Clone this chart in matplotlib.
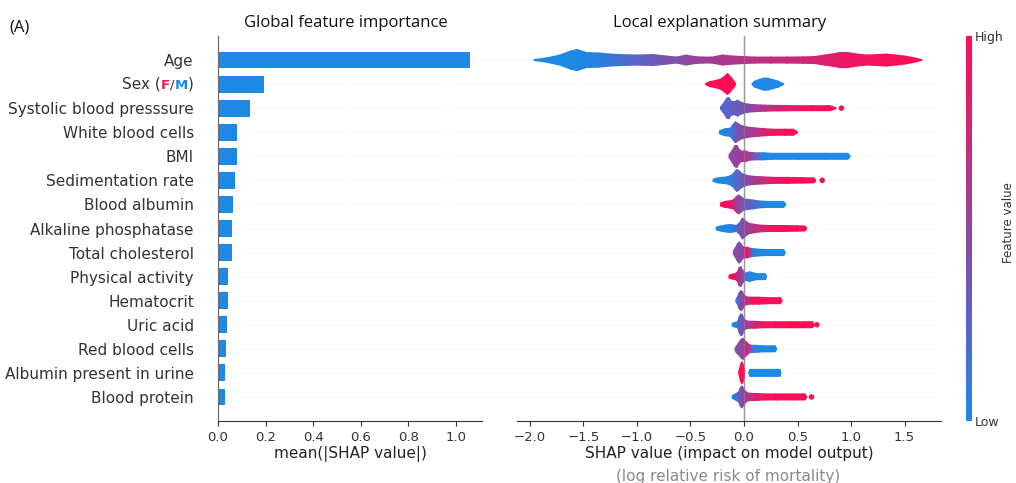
import numpy as np
import matplotlib
matplotlib.use("Agg")
import matplotlib.pyplot as plt
import matplotlib.tri as mtri
from matplotlib.colors import LinearSegmentedColormap
from matplotlib.offsetbox import TextArea, HPacker, AnnotationBbox
import matplotlib.colorbar as mcolorbar

# ---------------------------------------------------------------- data
features = [
    "Age", "Sex (F/M)", "Systolic blood presssure", "White blood cells", "BMI",
    "Sedimentation rate", "Blood albumin", "Alkaline phosphatase",
    "Total cholesterol", "Physical activity", "Hematocrit", "Uric acid",
    "Red blood cells", "Albumin present in urine", "Blood protein",
]

mean_abs_shap = [1.059, 0.193, 0.134, 0.080, 0.080, 0.071, 0.063, 0.059,
                 0.059, 0.042, 0.042, 0.038, 0.034, 0.029, 0.029]

bar_ticks = [0.0, 0.2, 0.4, 0.6, 0.8, 1.0]
shap_ticks = [-2.0, -1.5, -1.0, -0.5, 0.0, 0.5, 1.0, 1.5]

# Summary of each feature's SHAP distribution: knots along the SHAP axis,
# the local density of samples there, and the mean feature value (0 = low,
# 1 = high).  None separates disjoint groups.
swarm_x = [
    [-1.96, -1.85, -1.72, -1.62, -1.56, -1.47, -1.35, -1.25, -1.16, -1.00, -0.85,
     -0.72, -0.63, -0.54, -0.46, -0.38, -0.30, -0.20, -0.10, 0.0, 0.10, 0.25, 0.40,
     0.55, 0.66, 0.75, 0.82, 0.90, 0.97, 1.05, 1.15, 1.25, 1.33, 1.42, 1.50, 1.58, 1.66],
    [-0.36, -0.32, -0.27, -0.22, -0.18, -0.155, -0.13, -0.10, -0.08, None,
     0.075, 0.10, 0.14, 0.18, 0.22, 0.27, 0.32, 0.37],
    [-0.22, -0.19, -0.16, -0.14, -0.12, -0.09, -0.06, -0.03, 0.0, 0.04, 0.10, 0.20,
     0.35, 0.50, 0.65, 0.80, 0.86],
    [-0.23, -0.18, -0.13, -0.10, -0.08, -0.06, -0.03, 0.0, 0.04, 0.09, 0.14, 0.20,
     0.28, 0.38, 0.46, 0.50],
    [-0.14, -0.11, -0.085, -0.065, -0.045, -0.02, 0.01, 0.05, 0.10, 0.15, 0.19, 0.25,
     0.50, 0.75, 0.97, 0.99],
    [-0.29, -0.25, -0.20, -0.16, -0.12, -0.09, -0.07, -0.05, -0.02, 0.01, 0.05, 0.10,
     0.18, 0.28, 0.40, 0.55, 0.65, 0.67],
    [-0.22, -0.18, -0.14, -0.10, -0.07, -0.05, -0.03, 0.0, 0.04, 0.08, 0.14, 0.22,
     0.30, 0.37, 0.39],
    [-0.26, -0.22, -0.17, -0.13, -0.10, -0.07, -0.04, -0.015, 0.01, 0.04, 0.08, 0.14,
     0.22, 0.35, 0.50, 0.57, 0.585],
    [-0.10, -0.08, -0.06, -0.045, -0.03, -0.01, 0.01, 0.03, 0.05, 0.08, 0.12, 0.20,
     0.30, 0.37, 0.385],
    [-0.14, -0.11, -0.08, -0.06, -0.045, -0.03, -0.01, 0.01, 0.03, 0.05, 0.08, 0.12,
     0.17, 0.20, 0.21],
    [-0.075, -0.06, -0.045, -0.03, -0.015, 0.0, 0.02, 0.05, 0.08, 0.14, 0.22, 0.30,
     0.34, 0.355],
    [-0.11, -0.08, -0.06, -0.045, -0.03, -0.015, 0.0, 0.02, 0.05, 0.10, 0.18, 0.30,
     0.45, 0.60, 0.64, 0.655],
    [-0.07, -0.05, -0.03, -0.01, 0.01, 0.03, 0.05, 0.08, 0.12, 0.18, 0.25, 0.29, 0.305],
    [-0.05, -0.04, -0.03, -0.02, -0.01, 0.0, 0.005, None,
     0.045, 0.055, 0.10, 0.20, 0.30, 0.335, 0.345],
    [-0.11, -0.08, -0.05, -0.035, -0.02, -0.005, 0.01, 0.035, 0.07, 0.12, 0.20, 0.30,
     0.45, 0.55, 0.57, 0.585],
]

swarm_density = [
    [0.5, 2, 5, 9, 10.5, 7.5, 7, 6, 5.5, 5, 5.5, 4, 3, 5, 3.5, 3, 3, 5, 4, 3.5, 3, 3, 3,
     3.2, 3.5, 5, 6, 7.5, 7.5, 6, 5, 5.5, 6, 5, 4, 2.5, 0.5],
    [0.5, 2.5, 3.5, 5, 8, 10.5, 8, 4, 1, None, 0.5, 3, 4.5, 6, 6, 4.5, 3, 0.5],
    [1, 5, 10, 10.5, 7, 6.5, 8, 6, 5, 4, 3.5, 3, 2.7, 2.5, 2.5, 2.5, 0.5],
    [1.5, 3.5, 4, 8, 10.5, 9, 7, 6, 5, 4.5, 4, 3.5, 3, 3, 3, 0.5],
    [1.5, 6, 10.5, 11, 7, 5, 5.5, 4, 3.5, 3.5, 3.5, 3, 3, 3, 3, 0.5],
    [1, 2.5, 3, 3.5, 5, 8, 11, 10, 7, 5.5, 4.5, 4, 3.5, 3, 3, 2.7, 2.5, 0.5],
    [1.5, 3, 3.5, 4.5, 8, 9.5, 8, 5.5, 5, 4.5, 3.5, 3, 3, 3, 0.5],
    [1.5, 2.5, 3.5, 4, 3.5, 3, 6, 10.5, 8, 5.5, 4.5, 3.5, 3, 3, 2.7, 2.5, 0.5],
    [1.5, 5, 9, 10.5, 9, 6, 5, 5.5, 4.5, 4, 3.5, 3, 3, 3, 0.5],
    [1.5, 2.5, 3, 5, 9, 10, 6, 3.5, 4, 5, 4, 3, 3, 3, 0.5],
    [1.5, 4, 8, 10, 9, 6, 4, 3.5, 3.5, 3.5, 3, 3, 3, 0.5],
    [1.5, 2.5, 3, 8, 11, 10, 6, 4, 3.5, 3.5, 3, 3, 3, 3, 3, 0.5],
    [2, 6, 9, 10.5, 8, 6, 4, 3.5, 3.5, 3, 3, 3, 0.5],
    [0.5, 5, 9, 11, 9, 5, 0.5, None, 0.5, 3.5, 3.5, 3.5, 3.5, 3.5, 0.5],
    [1.5, 3, 5, 9, 11, 9, 6, 4, 3.5, 3.5, 3, 3, 3, 3, 3, 0.5],
]

swarm_value = [
    [0, 0, 0, 0, 0, 0.02, 0.05, 0.1, 0.15, 0.25, 0.32, 0.4, 0.44, 0.48, 0.52, 0.55,
     0.58, 0.6, 0.63, 0.65, 0.68, 0.7, 0.72, 0.75, 0.78, 0.82, 0.85, 0.88, 0.9, 0.92,
     0.94, 0.96, 0.97, 0.98, 1, 1, 1],
    [1, 1, 1, 1, 1, 1, 1, 1, 1, None, 0, 0, 0, 0, 0, 0, 0, 0],
    [0.2, 0.22, 0.25, 0.25, 0.28, 0.3, 0.3, 0.35, 0.4, 0.45, 0.55, 0.65, 0.8, 0.9,
     0.96, 1.0, 1.0],
    [0.0, 0.02, 0.1, 0.2, 0.3, 0.38, 0.45, 0.5, 0.55, 0.62, 0.7, 0.8, 0.9, 0.97, 1, 1],
    [0.5, 0.5, 0.5, 0.5, 0.55, 0.6, 0.65, 0.55, 0.4, 0.15, 0.0, 0, 0, 0, 0, 0],
    [0, 0, 0, 0.02, 0.08, 0.15, 0.22, 0.28, 0.35, 0.42, 0.5, 0.6, 0.72, 0.85, 0.95, 1,
     1, 1],
    [1, 1, 0.9, 0.75, 0.6, 0.5, 0.45, 0.38, 0.3, 0.22, 0.1, 0.02, 0, 0, 0],
    [0, 0, 0, 0.02, 0.1, 0.2, 0.35, 0.45, 0.5, 0.55, 0.62, 0.72, 0.85, 0.95, 1, 1, 1],
    [0.45, 0.45, 0.45, 0.45, 0.48, 0.55, 0.75, 0.9, 0.7, 0.15, 0.02, 0, 0, 0, 0],
    [1, 1, 0.9, 0.7, 0.6, 0.55, 0.45, 0.3, 0.1, 0, 0, 0, 0, 0, 0],
    [0.05, 0.2, 0.35, 0.45, 0.5, 0.55, 0.65, 0.8, 0.9, 0.97, 1, 1, 1, 1],
    [0, 0, 0.1, 0.25, 0.3, 0.35, 0.42, 0.55, 0.65, 0.78, 0.9, 0.97, 1, 1, 1, 1],
    [0.45, 0.45, 0.5, 0.5, 0.6, 0.85, 0.6, 0.15, 0.02, 0, 0, 0, 0],
    [1, 1, 1, 1, 1, 1, 1, None, 0, 0, 0, 0, 0, 0, 0],
    [0, 0.1, 0.3, 0.4, 0.45, 0.5, 0.55, 0.65, 0.75, 0.85, 0.95, 1, 1, 1, 1, 1],
]

# samples with missing feature values (Red blood cells)
missing_row = 12
missing_x = [-0.095, -0.08, -0.06, -0.04, -0.02]
missing_density = [1, 4, 6, 5, 2]

# isolated extreme samples
outlier_row = [2, 5, 11, 14]
outlier_x = [0.91, 0.73, 0.68, 0.63]
outlier_value = [1.0, 1.0, 1.0, 1.0]

# ---------------------------------------------------------------- style
BLUE = "#1E88E5"
RED = "#FF0D57"
TXT = "#333333"

cmap = LinearSegmentedColormap.from_list(
    "red_blue",
    [(0.0, BLUE), (0.25, "#5A64C8"), (0.5, "#9046A0"), (0.75, "#CD2878"), (1.0, RED)],
)

fig = plt.figure(figsize=(10.16, 4.83), dpi=100)
W, H = 1016.0, 483.0
ax_bottom, ax_height = 62 / H, 385 / H
ax_bar = fig.add_axes([218 / W, ax_bottom, 264 / W, ax_height])
ax_sw = fig.add_axes([517 / W, ax_bottom, 424 / W, ax_height])
ax_cb = fig.add_axes([966 / W, ax_bottom, 6 / W, ax_height])

rows = np.arange(len(features))

# ---------------------------------------------------------------- bar panel
ax_bar.barh(rows, mean_abs_shap, height=0.7, color=BLUE, zorder=2)
for r in rows:
    ax_bar.plot([0, 1.185], [r, r], color="#cccccc", lw=0.5, dashes=(1, 5),
                zorder=0, clip_on=False)
ax_bar.set_ylim(15, -1)
ax_bar.set_xlim(0, 1.11)
ax_bar.set_xticks(bar_ticks)
ax_bar.set_xticklabels([f"{t:.1f}" for t in bar_ticks])
ax_bar.set_yticks(rows)
ax_bar.set_yticklabels([f if not f.startswith("Sex") else "" for f in features])
ax_bar.tick_params(axis="y", length=0, pad=17.3, labelsize=11, labelcolor=TXT)
ax_bar.tick_params(axis="x", labelsize=9.5, labelcolor=TXT, color=TXT)
for s in ("top", "right"):
    ax_bar.spines[s].set_visible(False)
ax_bar.spines["left"].set_color("#666666")
ax_bar.spines["bottom"].set_color(TXT)

# coloured "Sex (F/M)" label
parts = [("Sex (", TXT, 11, "normal"), ("F", RED, 9.5, "bold"),
         ("/", TXT, 9.5, "normal"), ("M", BLUE, 9.5, "bold"), (")", TXT, 11, "normal")]
packer = HPacker(children=[TextArea(t, textprops=dict(color=c, fontsize=fs,
                                                      fontweight=fw))
                           for t, c, fs, fw in parts], sep=0, pad=0, align="baseline")
ab = AnnotationBbox(packer, (0, 1), xycoords=("axes fraction", "data"),
                    xybox=(-17.3, 0), boxcoords="offset points",
                    box_alignment=(1, 0.5), frameon=False, pad=0,
                    annotation_clip=False)
ax_bar.add_artist(ab)

# ---------------------------------------------------------------- swarm panel
HALF = 0.46  # half-height of the densest part of a row


def split_groups(xs, ds, vs):
    groups, cur = [], ([], [], [])
    for x, d, v in zip(xs, ds, vs):
        if x is None:
            groups.append(cur)
            cur = ([], [], [])
            continue
        cur[0].append(x)
        cur[1].append(d)
        cur[2].append(v)
    groups.append(cur)
    return groups


max_d = 11.0
for r in rows:
    ax_sw.plot([-2.28, 1.80], [r, r], color="#cccccc", lw=0.5, dashes=(1, 5),
               zorder=0, clip_on=False)

# missing-value samples drawn in grey beneath the coloured shape
mh = HALF * np.asarray(missing_density) / max_d
ax_sw.fill_between(missing_x, missing_row - mh, missing_row + mh,
                   color="#777777", lw=0, zorder=2)

for r in rows:
    for xs, ds, vs in split_groups(swarm_x[r], swarm_density[r], swarm_value[r]):
        xs = np.asarray(xs, float)
        hw = HALF * np.asarray(ds, float) / max_d
        vs = np.asarray(vs, float)
        n = len(xs)
        vx = np.concatenate([xs, xs])
        vy = np.concatenate([r - hw, r + hw])
        tris = []
        for k in range(n - 1):
            tris.append([k, k + n, k + 1])
            tris.append([k + n, k + 1 + n, k + 1])
        tri = mtri.Triangulation(vx, vy, tris)
        ax_sw.tripcolor(tri, np.concatenate([vs, vs]), cmap=cmap, vmin=0, vmax=1,
                        shading="gouraud", zorder=3)

ax_sw.scatter(outlier_x, outlier_row, c=outlier_value, cmap=cmap, vmin=0, vmax=1,
              s=16, linewidths=0, zorder=4)
# zero reference line, faintly visible over the distributions
ax_sw.axvline(0, color="#999999", lw=1, zorder=1)
ax_sw.axvline(0, color="#999999", lw=1, alpha=0.35, zorder=5)

ax_sw.set_ylim(15, -1)
ax_sw.set_xlim(-2.12, 1.84)
ax_sw.set_xticks(shap_ticks)
ax_sw.set_xticklabels([f"{t:.1f}".replace("-", "\u2212") for t in shap_ticks])
ax_sw.set_yticks([])
ax_sw.tick_params(axis="x", labelsize=9.5, labelcolor=TXT, color=TXT)
for s in ("top", "right", "left"):
    ax_sw.spines[s].set_visible(False)
ax_sw.spines["bottom"].set_color(TXT)

# ---------------------------------------------------------------- colour bar
cb = mcolorbar.ColorbarBase(ax_cb, cmap=cmap, orientation="vertical")
cb.outline.set_visible(False)
cb.set_ticks([0, 1])
cb.set_ticklabels(["Low", "High"])
ax_cb.tick_params(length=0, labelsize=9, labelcolor=TXT, pad=2)
fig.text(1008 / W, 1 - 223 / H, "Feature value", rotation=90, ha="center",
         va="center", fontsize=8.5, color=TXT)

# ---------------------------------------------------------------- titles and labels
title_font = dict(family="Open Sans", fontsize=12, color="#111111")
fig.text(9 / W, 1 - 32 / H, "(A)", ha="left", va="baseline", **title_font)
fig.text(346 / W, 1 - 27 / H, "Global feature importance", ha="center",
         va="baseline", **title_font)
fig.text(720 / W, 1 - 27 / H, "Local explanation summary", ha="center",
         va="baseline", **title_font)

fig.text(350 / W, 1 - 458 / H, "mean(|SHAP value|)", ha="center", va="baseline",
         fontsize=11, color="#222222")
fig.text(729 / W, 1 - 458 / H, "SHAP value (impact on model output)", ha="center",
         va="baseline", fontsize=11, color="#222222")
fig.text(728 / W, 1 - 481 / H, "(log relative risk of mortality)", ha="center",
         va="baseline", fontsize=11, color="#8a8a8a")

fig.savefig("out.png", dpi=100)
